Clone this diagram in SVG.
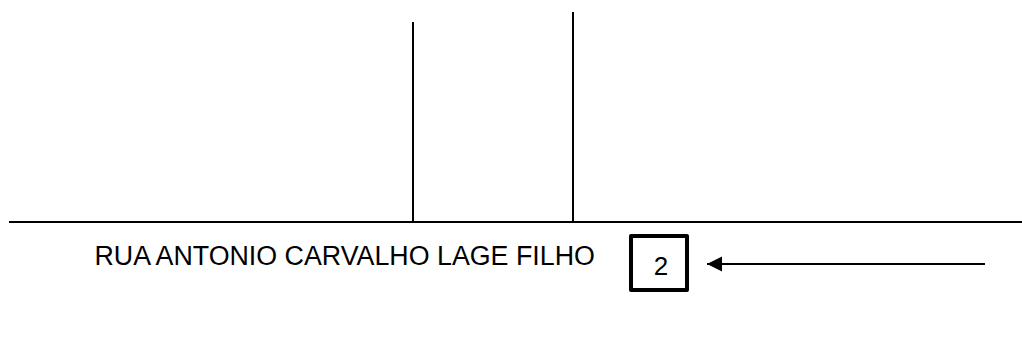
<svg xmlns="http://www.w3.org/2000/svg" width="1022" height="352" viewBox="0 0 1022 352">
<style>
.ln{stroke:#000;stroke-width:2;fill:none}
.lbl{font-family:"Liberation Sans",Arial,sans-serif;fill:#000}
</style>
<defs>
<marker id="ah" markerUnits="userSpaceOnUse" markerWidth="16" markerHeight="16" refX="0" refY="8" orient="auto" viewBox="0 0 16 16">
<path d="M0,8 L15,0.5 L15,15.5 Z" fill="#000"/>
</marker>
</defs>
<rect width="1022" height="352" fill="#fff"/>
<g id="connectors">
<line class="ln" x1="9" y1="222" x2="1022" y2="222"/>
<line class="ln" x1="413" y1="22" x2="413" y2="222"/>
<line class="ln" x1="573" y1="12" x2="573" y2="222"/>
<line class="ln" x1="707" y1="264" x2="985" y2="264" marker-start="url(#ah)"/>
</g>
<g id="street">
<text class="lbl" x="94.5" y="264.5" font-size="26.8">RUA ANTONIO CARVALHO LAGE FILHO</text>
</g>
<g id="node2">
<rect x="631" y="236" width="56" height="54" fill="#fff" stroke="#000" stroke-width="4" stroke-linejoin="round"/>
<text class="lbl" x="661" y="275" font-size="26" text-anchor="middle">2</text>
</g>
</svg>
